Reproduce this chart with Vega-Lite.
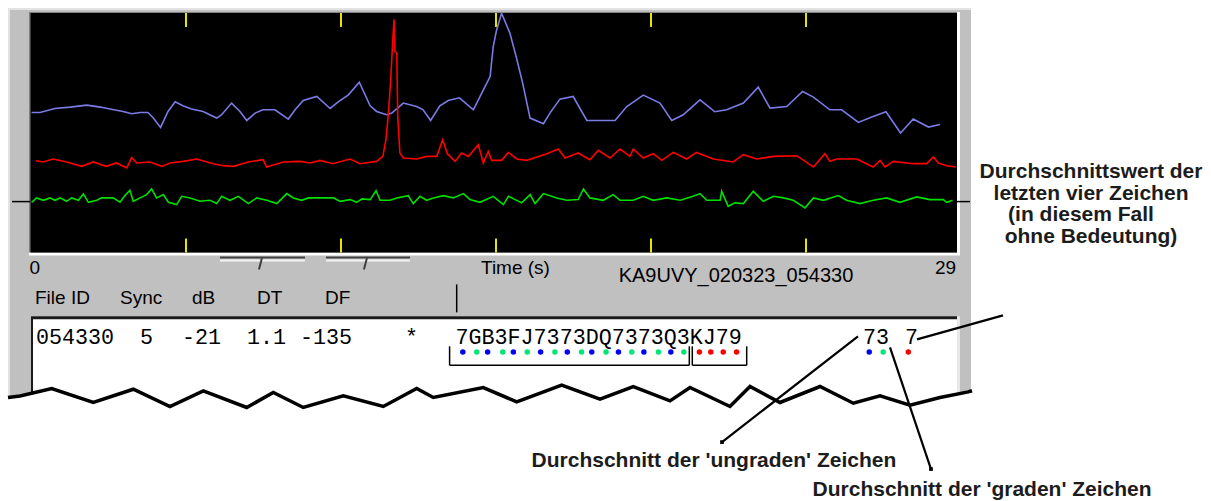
{
 "$schema": "https://vega.github.io/schema/vega-lite/v6.json",
 "width": 1211, "height": 501, "padding": 0,
 "autosize": {"type": "fit", "contains": "padding"},
 "background": "#ffffff",
 "config": {"view": {"stroke": null}},
 "resolve": {"scale": {"color": "independent"}},
 "datasets": {
  "rects": [
   {"part":"edge","t":-0.742,"v":245,"t2":30.323,"v2":-157},
   {"part":"panel","t":-0.677,"v":243,"t2":30.323,"v2":-157},
   {"part":"plotLight","t":-0.065,"v":241,"t2":29.968,"v2":-3},
   {"part":"plotDark","t":-0.065,"v":241,"t2":29.871,"v2":0},
   {"part":"plot","t":-0.016,"v":240,"t2":29.871,"v2":0},
   {"part":"boxLight","t":0,"v":-64,"t2":29.968,"v2":-157},
   {"part":"boxDark","t":0,"v":-64,"t2":29.871,"v2":-157},
   {"part":"box","t":0.065,"v":-67,"t2":29.871,"v2":-157}
  ],
  "rules": [
   {"g":"tick","t":5,"v":240,"t2":5,"v2":226},
   {"g":"tick","t":10,"v":240,"t2":10,"v2":226},
   {"g":"tick","t":15,"v":240,"t2":15,"v2":226},
   {"g":"tick","t":20,"v":240,"t2":20,"v2":226},
   {"g":"tick","t":25,"v":240,"t2":25,"v2":226},
   {"g":"tick","t":5,"v":14,"t2":5,"v2":0},
   {"g":"tick","t":10,"v":14,"t2":10,"v2":0},
   {"g":"tick","t":15,"v":14,"t2":15,"v2":0},
   {"g":"tick","t":20,"v":14,"t2":20,"v2":0},
   {"g":"tick","t":25,"v":14,"t2":25,"v2":0},
   {"g":"black","t":-0.613,"v":51,"t2":-0.032,"v2":51},
   {"g":"black","t":29.871,"v":51,"t2":30.290,"v2":51},
   {"g":"black","t":13.503,"v":-94,"t2":13.503,"v2":-113},
   {"g":"black","t":13.503,"v":-113,"t2":21.236,"v2":-113},
   {"g":"black","t":21.236,"v":-94,"t2":21.236,"v2":-113},
   {"g":"black","t":21.332,"v":-94,"t2":21.332,"v2":-113},
   {"g":"black","t":21.332,"v":-113,"t2":23.087,"v2":-113},
   {"g":"black","t":23.087,"v":-94,"t2":23.087,"v2":-113},
   {"g":"black","t":13.732,"v":-32,"t2":13.732,"v2":-60},
   {"g":"sliderLight","t":6.097,"v":-8,"t2":8.839,"v2":-8},
   {"g":"sliderLight","t":9.516,"v":-8,"t2":12.226,"v2":-8},
   {"g":"sliderDark","t":6.097,"v":-5,"t2":8.839,"v2":-5},
   {"g":"sliderDark","t":9.516,"v":-5,"t2":12.226,"v2":-5},
   {"g":"sliderDark","t":7.452,"v":-5,"t2":7.355,"v2":-17},
   {"g":"sliderDark","t":10.839,"v":-5,"t2":10.742,"v2":-17},
   {"g":"pointer","t":28.581,"v":-87,"t2":31.355,"v2":-63},
   {"g":"pointer","t":26.677,"v":-84,"t2":22.290,"v2":-190},
   {"g":"pointer","t":27.710,"v":-95,"t2":29.032,"v2":-217}
  ],
  "ends": [
   {"t":22.290,"v":-190},
   {"t":29.032,"v":-217}
  ],
  "zigzag": [
   {"t":-0.742,"v":-145.3},{"t":-0.355,"v":-143.7},{"t":0.668,"v":-136.3},{"t":2.010,"v":-150.3},
   {"t":3.300,"v":-137},{"t":4.484,"v":-154.3},{"t":5.558,"v":-138.7},{"t":6.958,"v":-155.3},
   {"t":7.816,"v":-140.3},{"t":8.784,"v":-155.3},{"t":10.074,"v":-143.7},{"t":11.365,"v":-154.3},
   {"t":12.442,"v":-136.3},{"t":12.977,"v":-145.3},{"t":14.590,"v":-135.3},{"t":15.668,"v":-149.7},
   {"t":17.119,"v":-133},{"t":18.355,"v":-147},{"t":19.429,"v":-134.3},{"t":20.613,"v":-148.7},
   {"t":21.258,"v":-135.3},{"t":22.548,"v":-154.3},{"t":23.194,"v":-134.3},{"t":24.161,"v":-150.3},
   {"t":25.452,"v":-134.3},{"t":26.526,"v":-151},{"t":27.387,"v":-143.7},{"t":28.355,"v":-153},
   {"t":29.323,"v":-145.3},{"t":30.235,"v":-139.7},{"t":30.355,"v":-138.5}
  ],
  "signals": [
   {"s":"sync","t":0.02,"v":140.3},{"s":"sync","t":0.29,"v":140.3},{"s":"sync","t":0.77,"v":144.3},{"s":"sync","t":1.26,"v":145.7},
   {"s":"sync","t":1.80,"v":147.7},{"s":"sync","t":2.23,"v":145.7},{"s":"sync","t":2.55,"v":143.7},{"s":"sync","t":2.97,"v":141.3},
   {"s":"sync","t":3.25,"v":139},{"s":"sync","t":3.52,"v":140.3},{"s":"sync","t":3.77,"v":140.3},{"s":"sync","t":3.94,"v":135},
   {"s":"sync","t":4.18,"v":125.3},{"s":"sync","t":4.42,"v":141.3},{"s":"sync","t":4.65,"v":151},{"s":"sync","t":4.90,"v":147},
   {"s":"sync","t":5.18,"v":143.7},{"s":"sync","t":5.55,"v":141.3},{"s":"sync","t":5.99,"v":134.7},{"s":"sync","t":6.15,"v":138},
   {"s":"sync","t":6.47,"v":149.7},{"s":"sync","t":6.74,"v":141.3},{"s":"sync","t":6.96,"v":132.3},{"s":"sync","t":7.23,"v":139.7},
   {"s":"sync","t":7.48,"v":143},{"s":"sync","t":7.87,"v":143},{"s":"sync","t":8.30,"v":133.7},{"s":"sync","t":8.52,"v":143},
   {"s":"sync","t":8.78,"v":152.3},{"s":"sync","t":9.22,"v":156.3},{"s":"sync","t":9.65,"v":144.3},{"s":"sync","t":9.91,"v":151},
   {"s":"sync","t":10.24,"v":158},{"s":"sync","t":10.59,"v":170.7},{"s":"sync","t":10.94,"v":147},{"s":"sync","t":11.15,"v":141.3},
   {"s":"sync","t":11.47,"v":138},{"s":"sync","t":11.64,"v":139.7},{"s":"sync","t":12.01,"v":149.7},{"s":"sync","t":12.44,"v":146.3},
   {"s":"sync","t":12.65,"v":143},{"s":"sync","t":12.89,"v":132.3},{"s":"sync","t":13.19,"v":147},{"s":"sync","t":13.46,"v":152.3},
   {"s":"sync","t":13.82,"v":155},{"s":"sync","t":14.27,"v":143},{"s":"sync","t":14.54,"v":159.7},{"s":"sync","t":14.81,"v":176.3},
   {"s":"sync","t":14.91,"v":206.3},{"s":"sync","t":15.02,"v":223},{"s":"sync","t":15.18,"v":239.7},{"s":"sync","t":15.45,"v":219.7},
   {"s":"sync","t":15.65,"v":196.3},{"s":"sync","t":15.86,"v":169.7},{"s":"sync","t":16.10,"v":134.7},{"s":"sync","t":16.53,"v":129},
   {"s":"sync","t":16.74,"v":139.7},{"s":"sync","t":17.06,"v":153.7},{"s":"sync","t":17.49,"v":156.3},{"s":"sync","t":17.93,"v":132.3},
   {"s":"sync","t":18.84,"v":132.3},{"s":"sync","t":19.22,"v":146.3},{"s":"sync","t":19.75,"v":157.7},{"s":"sync","t":20.29,"v":149.7},
   {"s":"sync","t":20.67,"v":132.3},{"s":"sync","t":21.04,"v":138},{"s":"sync","t":21.58,"v":153},{"s":"sync","t":22.06,"v":141},
   {"s":"sync","t":22.44,"v":143},{"s":"sync","t":22.98,"v":149.7},{"s":"sync","t":23.46,"v":165.7},{"s":"sync","t":23.84,"v":144.7},
   {"s":"sync","t":24.38,"v":146.3},{"s":"sync","t":24.89,"v":161.3},{"s":"sync","t":25.24,"v":155.7},{"s":"sync","t":25.77,"v":143},
   {"s":"sync","t":26.15,"v":143},{"s":"sync","t":26.69,"v":130.3},{"s":"sync","t":27.12,"v":135.7},{"s":"sync","t":27.58,"v":141},
   {"s":"sync","t":28.05,"v":119.7},{"s":"sync","t":28.46,"v":133.7},{"s":"sync","t":28.95,"v":125.7},{"s":"sync","t":29.32,"v":128.3},

   {"s":"signal","t":0.16,"v":92},{"s":"signal","t":0.39,"v":90.7},{"s":"signal","t":0.71,"v":93.7},{"s":"signal","t":1.15,"v":90.7},
   {"s":"signal","t":1.64,"v":86.3},{"s":"signal","t":2.01,"v":90.7},{"s":"signal","t":2.42,"v":86.3},{"s":"signal","t":2.76,"v":89.7},
   {"s":"signal","t":3.09,"v":84.7},{"s":"signal","t":3.25,"v":95.3},{"s":"signal","t":3.41,"v":89.7},{"s":"signal","t":3.84,"v":90.7},
   {"s":"signal","t":4.22,"v":86.3},{"s":"signal","t":4.48,"v":89.7},{"s":"signal","t":4.91,"v":91.3},{"s":"signal","t":5.35,"v":93.7},
   {"s":"signal","t":5.88,"v":89},{"s":"signal","t":6.20,"v":87},{"s":"signal","t":6.53,"v":86.3},{"s":"signal","t":7.01,"v":90.7},
   {"s":"signal","t":7.49,"v":93},{"s":"signal","t":7.60,"v":85.7},{"s":"signal","t":8.14,"v":90.7},{"s":"signal","t":8.68,"v":91.3},
   {"s":"signal","t":9.00,"v":89.7},{"s":"signal","t":9.32,"v":92.3},{"s":"signal","t":9.74,"v":89},{"s":"signal","t":10.29,"v":93.7},
   {"s":"signal","t":10.61,"v":89},{"s":"signal","t":11.15,"v":91.3},{"s":"signal","t":11.35,"v":96.3},{"s":"signal","t":11.45,"v":113},
   {"s":"signal","t":11.53,"v":139.7},{"s":"signal","t":11.60,"v":171.3},{"s":"signal","t":11.67,"v":213},{"s":"signal","t":11.71,"v":233.7},
   {"s":"signal","t":11.74,"v":201.3},{"s":"signal","t":11.80,"v":199.7},{"s":"signal","t":11.83,"v":136.3},{"s":"signal","t":11.90,"v":99.7},
   {"s":"signal","t":12.01,"v":94.7},{"s":"signal","t":12.44,"v":93.7},{"s":"signal","t":12.76,"v":96.3},{"s":"signal","t":13.09,"v":96.3},
   {"s":"signal","t":13.28,"v":113},{"s":"signal","t":13.43,"v":99},{"s":"signal","t":13.68,"v":91.3},{"s":"signal","t":13.89,"v":99.7},
   {"s":"signal","t":14.11,"v":96.3},{"s":"signal","t":14.43,"v":108},{"s":"signal","t":14.59,"v":89.7},{"s":"signal","t":14.75,"v":101.3},
   {"s":"signal","t":14.86,"v":92.3},{"s":"signal","t":15.18,"v":92.3},{"s":"signal","t":15.40,"v":100.3},{"s":"signal","t":15.67,"v":93.7},
   {"s":"signal","t":15.99,"v":92.3},{"s":"signal","t":16.64,"v":99},{"s":"signal","t":17.01,"v":103.7},{"s":"signal","t":17.23,"v":94.7},
   {"s":"signal","t":17.65,"v":99.7},{"s":"signal","t":18.03,"v":93},{"s":"signal","t":18.30,"v":102.3},{"s":"signal","t":18.68,"v":94.7},
   {"s":"signal","t":19.00,"v":103.7},{"s":"signal","t":19.32,"v":96.3},{"s":"signal","t":19.43,"v":103.7},{"s":"signal","t":19.75,"v":94.7},
   {"s":"signal","t":20.07,"v":99},{"s":"signal","t":20.35,"v":92.3},{"s":"signal","t":20.72,"v":100.3},{"s":"signal","t":21.15,"v":93.7},
   {"s":"signal","t":21.47,"v":100.3},{"s":"signal","t":22.01,"v":93.7},{"s":"signal","t":22.65,"v":90.7},{"s":"signal","t":22.98,"v":98},
   {"s":"signal","t":23.41,"v":93.7},{"s":"signal","t":23.95,"v":96.3},{"s":"signal","t":24.70,"v":97},{"s":"signal","t":25.24,"v":85.7},
   {"s":"signal","t":25.61,"v":99},{"s":"signal","t":25.77,"v":91.3},{"s":"signal","t":25.99,"v":93.7},{"s":"signal","t":26.64,"v":93.7},
   {"s":"signal","t":27.17,"v":85.7},{"s":"signal","t":27.39,"v":92.3},{"s":"signal","t":27.55,"v":85.7},{"s":"signal","t":27.82,"v":91.3},
   {"s":"signal","t":28.46,"v":89},{"s":"signal","t":28.89,"v":89},{"s":"signal","t":29.11,"v":95.7},{"s":"signal","t":29.27,"v":89.7},
   {"s":"signal","t":29.54,"v":87},{"s":"signal","t":29.84,"v":85.7},

   {"s":"noise","t":0.02,"v":50.3},{"s":"noise","t":0.18,"v":54.7},{"s":"noise","t":0.40,"v":52.3},{"s":"noise","t":0.61,"v":54.7},
   {"s":"noise","t":0.77,"v":52.3},{"s":"noise","t":0.94,"v":54.7},{"s":"noise","t":1.15,"v":51.3},{"s":"noise","t":1.31,"v":54.7},
   {"s":"noise","t":1.53,"v":52.3},{"s":"noise","t":1.69,"v":58.7},{"s":"noise","t":1.85,"v":50.3},{"s":"noise","t":2.12,"v":52.3},
   {"s":"noise","t":2.28,"v":54.7},{"s":"noise","t":2.65,"v":54.7},{"s":"noise","t":2.87,"v":50.3},{"s":"noise","t":3.03,"v":57},
   {"s":"noise","t":3.19,"v":62.3},{"s":"noise","t":3.30,"v":51.3},{"s":"noise","t":3.52,"v":54.7},{"s":"noise","t":3.73,"v":58},
   {"s":"noise","t":3.89,"v":63.7},{"s":"noise","t":4.05,"v":54.7},{"s":"noise","t":4.27,"v":58},{"s":"noise","t":4.43,"v":50.3},
   {"s":"noise","t":4.70,"v":48},{"s":"noise","t":4.86,"v":56.3},{"s":"noise","t":5.13,"v":54.7},{"s":"noise","t":5.45,"v":51.3},
   {"s":"noise","t":5.77,"v":52.3},{"s":"noise","t":5.99,"v":49},{"s":"noise","t":6.15,"v":56.3},{"s":"noise","t":6.42,"v":52.3},
   {"s":"noise","t":6.69,"v":56.3},{"s":"noise","t":7.01,"v":49},{"s":"noise","t":7.28,"v":54.7},{"s":"noise","t":7.60,"v":52.3},
   {"s":"noise","t":7.93,"v":49},{"s":"noise","t":8.25,"v":59},{"s":"noise","t":8.46,"v":54.7},{"s":"noise","t":8.73,"v":52.3},
   {"s":"noise","t":8.95,"v":54.7},{"s":"noise","t":9.43,"v":54.7},{"s":"noise","t":9.75,"v":54.7},{"s":"noise","t":9.97,"v":51.3},
   {"s":"noise","t":10.29,"v":53},{"s":"noise","t":10.51,"v":50.3},{"s":"noise","t":10.67,"v":53.7},{"s":"noise","t":10.94,"v":53},
   {"s":"noise","t":11.13,"v":62},{"s":"noise","t":11.26,"v":52.3},{"s":"noise","t":11.58,"v":52.3},{"s":"noise","t":11.80,"v":54.7},
   {"s":"noise","t":12.17,"v":57},{"s":"noise","t":12.33,"v":49},{"s":"noise","t":12.55,"v":56.3},{"s":"noise","t":12.76,"v":52.3},
   {"s":"noise","t":12.98,"v":54.7},{"s":"noise","t":13.30,"v":57},{"s":"noise","t":13.62,"v":54.7},{"s":"noise","t":13.95,"v":59},
   {"s":"noise","t":14.16,"v":53},{"s":"noise","t":14.48,"v":50.3},{"s":"noise","t":14.91,"v":56.3},{"s":"noise","t":15.24,"v":48},
   {"s":"noise","t":15.40,"v":56.3},{"s":"noise","t":15.83,"v":49.7},{"s":"noise","t":16.10,"v":58},{"s":"noise","t":16.26,"v":49},
   {"s":"noise","t":16.53,"v":59},{"s":"noise","t":16.96,"v":54.7},{"s":"noise","t":17.28,"v":52.3},{"s":"noise","t":17.65,"v":53},
   {"s":"noise","t":17.82,"v":63.7},{"s":"noise","t":18.03,"v":54.7},{"s":"noise","t":18.46,"v":52.3},{"s":"noise","t":18.78,"v":58},
   {"s":"noise","t":19.00,"v":52.3},{"s":"noise","t":19.43,"v":52.3},{"s":"noise","t":19.75,"v":56.3},{"s":"noise","t":20.07,"v":52.3},
   {"s":"noise","t":20.51,"v":54.7},{"s":"noise","t":20.94,"v":52.3},{"s":"noise","t":21.36,"v":56.3},{"s":"noise","t":21.58,"v":59},
   {"s":"noise","t":21.80,"v":52.3},{"s":"noise","t":22.23,"v":52.3},{"s":"noise","t":22.28,"v":61.3},{"s":"noise","t":22.49,"v":46.3},
   {"s":"noise","t":22.71,"v":49.7},{"s":"noise","t":22.98,"v":49},{"s":"noise","t":23.30,"v":61.3},{"s":"noise","t":23.62,"v":51.3},
   {"s":"noise","t":23.95,"v":56.3},{"s":"noise","t":24.27,"v":54.7},{"s":"noise","t":24.59,"v":52.3},{"s":"noise","t":24.97,"v":44.7},
   {"s":"noise","t":25.24,"v":54.7},{"s":"noise","t":25.56,"v":52.3},{"s":"noise","t":26.04,"v":57},{"s":"noise","t":26.31,"v":52.3},
   {"s":"noise","t":26.74,"v":49},{"s":"noise","t":27.17,"v":52.3},{"s":"noise","t":27.60,"v":54.7},{"s":"noise","t":28.03,"v":50.3},
   {"s":"noise","t":28.57,"v":55.7},{"s":"noise","t":29.00,"v":53},{"s":"noise","t":29.43,"v":53},{"s":"noise","t":29.54,"v":50.3},
   {"s":"noise","t":29.73,"v":52.3}
  ],
  "dots": [
   {"k":"odd","t":13.93,"v":-99.7},{"k":"even","t":14.38,"v":-99.7},{"k":"odd","t":14.73,"v":-99.7},{"k":"even","t":15.22,"v":-99.7},
   {"k":"odd","t":15.56,"v":-99.7},{"k":"even","t":16.01,"v":-99.7},{"k":"odd","t":16.44,"v":-99.7},{"k":"even","t":16.90,"v":-99.7},
   {"k":"odd","t":17.30,"v":-99.7},{"k":"even","t":17.76,"v":-99.7},{"k":"odd","t":18.09,"v":-99.7},{"k":"even","t":18.55,"v":-99.7},
   {"k":"odd","t":18.95,"v":-99.7},{"k":"even","t":19.38,"v":-99.7},{"k":"odd","t":19.77,"v":-99.7},{"k":"even","t":20.24,"v":-99.7},
   {"k":"odd","t":20.64,"v":-99.7},{"k":"even","t":21.06,"v":-99.7},{"k":"last4","t":21.56,"v":-99.7},{"k":"last4","t":21.93,"v":-99.7},
   {"k":"last4","t":22.33,"v":-99.7},{"k":"last4","t":22.76,"v":-99.7},
   {"k":"odd","t":27.04,"v":-99.7},{"k":"even","t":27.49,"v":-99.7},{"k":"last4","t":28.30,"v":-99.7}
  ],
  "labels": [
   {"g":"ui","label":"0","t":-0.048,"v":-22},
   {"g":"ui","label":"Time (s)","t":14.516,"v":-22},
   {"g":"ui","label":"29","t":29.161,"v":-22},
   {"g":"ui","label":"File ID","t":0.129,"v":-52},
   {"g":"ui","label":"Sync","t":2.871,"v":-52},
   {"g":"ui","label":"dB","t":5.194,"v":-52},
   {"g":"ui","label":"DT","t":7.290,"v":-52},
   {"g":"ui","label":"DF","t":9.484,"v":-52},
   {"g":"file","label":"KA9UVY_020323_054330","t":22.742,"v":-30},
   {"g":"mono","label":"054330","t":0.161,"v":-91.5},
   {"g":"mono","label":"5","t":3.516,"v":-91.5},
   {"g":"mono","label":"-21","t":4.871,"v":-91.5},
   {"g":"mono","label":"1.1","t":6.968,"v":-91.5},
   {"g":"mono","label":"-135","t":8.677,"v":-91.5},
   {"g":"mono","label":"*","t":12.065,"v":-91.5},
   {"g":"mono","label":"7GB3FJ7373DQ7373Q3KJ79","t":13.694,"v":-91.5},
   {"g":"mono","label":"73","t":26.839,"v":-91.5},
   {"g":"mono","label":"7","t":28.194,"v":-91.5},
   {"g":"note","label":"Durchschnittswert der","t":34.194,"v":74.7},
   {"g":"note","label":"letzten vier Zeichen","t":34.194,"v":53},
   {"g":"note","label":"(in diesem Fall","t":33.871,"v":31.3},
   {"g":"note","label":"ohne Bedeutung)","t":34.194,"v":9.7},
   {"g":"note","label":"Durchschnitt der 'ungraden' Zeichen","t":22.03,"v":-215.3},
   {"g":"note","label":"Durchschnitt der 'graden' Zeichen","t":30.68,"v":-244.3}
  ]
 },
 "encoding": {
  "x": {"field": "t", "type": "quantitative", "scale": {"domain": [-1, 38.0645], "nice": false, "zero": false}, "axis": null},
  "y": {"field": "v", "type": "quantitative", "scale": {"domain": [-248, 253], "nice": false, "zero": false}, "axis": null}
 },
 "layer": [
  {
   "data": {"name": "rects"},
   "mark": {"type": "rect"},
   "encoding": {
    "x2": {"field": "t2"},
    "y2": {"field": "v2"},
    "color": {"field": "part", "type": "nominal", "legend": null,
     "scale": {"domain": ["edge","panel","plotLight","plotDark","plot","boxLight","boxDark","box"],
               "range": ["#e3e3e3","#c0c0c0","#ffffff","#808080","#000000","#e8e8e8","#1a1a1a","#ffffff"]}}
   }
  },
  {
   "data": {"name": "rules"},
   "transform": [{"filter": "datum.g === 'tick'"}],
   "mark": {"type": "rule", "color": "#e6e600", "strokeWidth": 2},
   "encoding": {"x2": {"field": "t2"}, "y2": {"field": "v2"}}
  },
  {
   "data": {"name": "rules"},
   "transform": [{"filter": "datum.g === 'sliderDark' || datum.g === 'sliderLight'"}],
   "mark": {"type": "rule", "strokeWidth": 2},
   "encoding": {"x2": {"field": "t2"}, "y2": {"field": "v2"},
    "color": {"field": "g", "type": "nominal", "legend": null, "scale": {"domain": ["sliderDark","sliderLight"], "range": ["#404040","#f4f4f4"]}}}
  },
  {
   "data": {"name": "signals"},
   "mark": {"type": "line", "strokeWidth": 1.6, "interpolate": "linear"},
   "encoding": {
    "color": {"field": "s", "type": "nominal", "legend": null,
     "scale": {"domain": ["sync","signal","noise"], "range": ["#7b7be6","#ff0000","#00e000"]}}
   }
  },
  {
   "data": {"name": "zigzag"},
   "mark": {"type": "area", "color": "#ffffff", "interpolate": "linear"},
   "encoding": {"y2": {"datum": -248}}
  },
  {
   "data": {"name": "zigzag"},
   "mark": {"type": "line", "color": "#000000", "strokeWidth": 3.5, "strokeJoin": "miter"},
   "encoding": {}
  },
  {
   "data": {"name": "labels"},
   "transform": [{"filter": "datum.g === 'ui'"}],
   "mark": {"type": "text", "font": "Liberation Sans", "fontSize": 19, "align": "left", "baseline": "alphabetic", "color": "#000000"},
   "encoding": {"text": {"field": "label"}}
  },
  {
   "data": {"name": "labels"},
   "transform": [{"filter": "datum.g === 'file'"}],
   "mark": {"type": "text", "font": "Liberation Sans", "fontSize": 20, "align": "center", "baseline": "alphabetic", "color": "#000000"},
   "encoding": {"text": {"field": "label"}}
  },
  {
   "data": {"name": "labels"},
   "transform": [{"filter": "datum.g === 'mono'"}],
   "mark": {"type": "text", "font": "Liberation Mono", "fontSize": 21.7, "align": "left", "baseline": "alphabetic", "color": "#000000"},
   "encoding": {"text": {"field": "label"}}
  },
  {
   "data": {"name": "labels"},
   "transform": [{"filter": "datum.g === 'note'"}],
   "mark": {"type": "text", "font": "Liberation Sans", "fontSize": 21, "fontWeight": "bold", "align": "center", "baseline": "alphabetic", "color": "#1c1c1c"},
   "encoding": {"text": {"field": "label"}}
  },
  {
   "data": {"name": "rules"},
   "transform": [{"filter": "datum.g === 'black'"}],
   "mark": {"type": "rule", "color": "#000000", "strokeWidth": 1.5},
   "encoding": {"x2": {"field": "t2"}, "y2": {"field": "v2"}}
  },
  {
   "data": {"name": "dots"},
   "mark": {"type": "point", "filled": true, "shape": "circle", "size": 30, "opacity": 1},
   "encoding": {
    "color": {"field": "k", "type": "nominal", "legend": null,
     "scale": {"domain": ["odd","even","last4"], "range": ["#0000ff","#00e676","#ff0000"]}}
   }
  },
  {
   "data": {"name": "rules"},
   "transform": [{"filter": "datum.g === 'pointer'"}],
   "mark": {"type": "rule", "color": "#000000", "strokeWidth": 2.2},
   "encoding": {"x2": {"field": "t2"}, "y2": {"field": "v2"}}
  },
  {
   "data": {"name": "ends"},
   "mark": {"type": "point", "filled": true, "shape": "square", "size": 14, "color": "#000000", "opacity": 1},
   "encoding": {}
  }
 ]
}
